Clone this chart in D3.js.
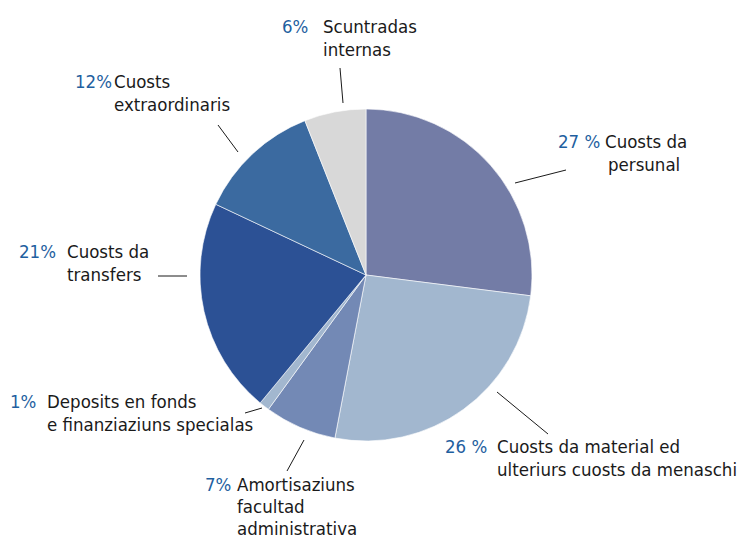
<!DOCTYPE html>
<html>
<head>
<meta charset="utf-8">
<script src="https://cdn.jsdelivr.net/npm/d3@7/dist/d3.min.js"></script>
<style>
  html, body { margin: 0; padding: 0; background: #ffffff; }
  svg { display: block; }
  text { font-family: "DejaVu Sans Condensed", "DejaVu Sans", sans-serif; font-size: 18.5px; }
</style>
</head>
<body>
<svg id="chart" width="749" height="540"></svg>
<script>
// Data (clockwise from 12 o'clock)
const categories = [
  "Cuosts da persunal",
  "Cuosts da material ed ulteriurs cuosts da menaschi",
  "Amortisaziuns facultad administrativa",
  "Deposits en fonds e finanziaziuns specialas",
  "Cuosts da transfers",
  "Cuosts extraordinaris",
  "Scuntradas internas"
];
const values = [27, 26, 7, 1, 21, 12, 6];
const percentLabels = ["27 %", "26 %", "7%", "1%", "21%", "12%", "6%"];
const labelLines = [
  ["Cuosts da", "persunal"],
  ["Cuosts da material ed", "ulteriurs cuosts da menaschi"],
  ["Amortisaziuns", "facultad", "administrativa"],
  ["Deposits en fonds", "e finanziaziuns specialas"],
  ["Cuosts da", "transfers"],
  ["Cuosts", "extraordinaris"],
  ["Scuntradas", "internas"]
];
const colors = ["#737ca6", "#a2b7cf", "#7389b5", "#a2b7cf", "#2c5195", "#3b6aa0", "#d8d8d8"];

// Layout (annotation positions)
const cx = 366, cy = 275, R = 166;
const labelLayout = [
  { px: 558, tx: 605, ty: 148, lh: 23, dx2: 3, lead: [[566,170],[515,183]] },
  { px: 445, tx: 497, ty: 453, lh: 23, lead: [[497,392],[548,434]] },
  { px: 205, tx: 237, ty: 491, lh: 22, lead: [[304,440],[287,471]] },
  { px: 10,  tx: 47,  ty: 408, lh: 23, lead: [[245,413],[262,408]] },
  { px: 19,  tx: 67,  ty: 258, lh: 23, lead: [[158,276],[187,276]] },
  { px: 75,  tx: 114, ty: 88,  lh: 23, lead: [[218,125],[238,152]] },
  { px: 282, tx: 323, ty: 33,  lh: 23, lead: [[340,68],[343,103]] }
];

const svg = d3.select("#chart");
const g = svg.append("g").attr("transform", `translate(${cx},${cy})`);

const pie = d3.pie().sort(null).value(d => d);
const arc = d3.arc().innerRadius(0).outerRadius(R);

g.selectAll("path.slice")
  .data(pie(values))
  .join("path")
  .attr("class", "slice")
  .attr("d", arc)
  .attr("fill", (d, i) => colors[i])
  .attr("stroke", "#ffffff")
  .attr("stroke-width", 0.6);

// Leader lines
svg.selectAll("line.leader")
  .data(labelLayout)
  .join("line")
  .attr("class", "leader")
  .attr("x1", d => d.lead[0][0]).attr("y1", d => d.lead[0][1])
  .attr("x2", d => d.lead[1][0]).attr("y2", d => d.lead[1][1])
  .attr("stroke", "#1a1a1a").attr("stroke-width", 1);

// condensed horizontal scale: reference "ulteriurs cuosts da menaschi" spans ~250px
const probe = svg.append("text").text("ulteriurs cuosts da menaschi");
const sx = Math.min(1, 250 / probe.node().getComputedTextLength());
probe.remove();

function addText(x, y, str, fill) {
  svg.append("text")
    .attr("transform", `translate(${x},${y}) scale(${sx},1)`)
    .attr("fill", fill)
    .text(str);
}

labelLayout.forEach((L, i) => {
  addText(L.px, L.ty, percentLabels[i], "#1f5fa0");
  labelLines[i].forEach((line, j) => {
    addText(L.tx + (j > 0 && L.dx2 ? L.dx2 : 0), L.ty + j * L.lh, line, "#1a1a1a");
  });
});
</script>
</body>
</html>
